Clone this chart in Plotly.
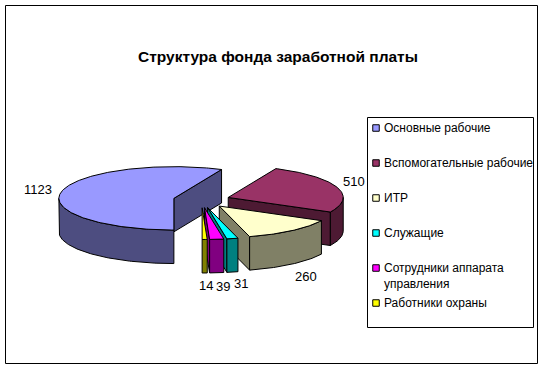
import math
import plotly.graph_objects as go

title = "Структура фонда заработной платы"
categories = ["Основные рабочие", "Вспомогательные рабочие", "ИТР", "Служащие",
              "Сотрудники аппарата<br>управления", "Работники охраны"]
values = [1123, 510, 260, 31, 39, 14]
top_colors = ["#9999FF", "#993366", "#FFFFCC", "#00FFFF", "#FF00FF", "#FFFF00"]
side_colors = ["#4D4D80", "#4D1A33", "#808066", "#008080", "#800080", "#808000"]

FONT = "Liberation Sans, Arial, sans-serif"
CX, CY, RX, RY, DEPTH, EXPLODE = 201.5, 200.0, 115.0, 31.7, 33.5, 0.2458
START_ANGLE = 180.0


def rim(a, ox, oy, dz=0.0):
    r = math.radians(a)
    return ox + RX * math.sin(r), oy - RY * math.cos(r) + dz


fig = go.Figure()


def face(points, color):
    fig.add_trace(go.Scatter(
        x=[p[0] for p in points] + [points[0][0]],
        y=[p[1] for p in points] + [points[0][1]],
        mode="lines", fill="toself", fillcolor=color,
        line=dict(color="black", width=1), hoverinfo="skip", showlegend=False))


# slice angular extents (clockwise from 12 o'clock)
total = sum(values)
slices = []
a = START_ANGLE
for i, v in enumerate(values):
    b = a + v / total * 360.0
    slices.append((i, a, b))
    a = b


def draw_slice(i, a0, a1):
    mid = math.radians((a0 + a1) / 2)
    ox = CX + EXPLODE * RX * math.sin(mid)
    oy = CY - EXPLODE * RY * math.cos(mid)
    side, top = side_colors[i], top_colors[i]
    # cut faces that look toward the viewer
    for ang, normal in ((a0, a0 - 90), (a1, a1 + 90)):
        if -math.cos(math.radians(normal)) > 1e-3:
            p = rim(ang, ox, oy)
            face([(ox, oy), p, (p[0], p[1] + DEPTH), (ox, oy + DEPTH)], side)
    # outer wall, front half of the rim only
    spans = []
    for k in (0, 360):
        lo, hi = max(a0, 90 + k), min(a1, 270 + k)
        if hi > lo:
            spans.append((lo, hi))
    for lo, hi in spans:
        n = max(2, int(hi - lo) + 1)
        arc = [lo + (hi - lo) * t / n for t in range(n + 1)]
        face([rim(t, ox, oy) for t in arc] + [rim(t, ox, oy, DEPTH) for t in reversed(arc)], side)
    # top face
    n = max(2, int(a1 - a0) + 1)
    arc = [a0 + (a1 - a0) * t / n for t in range(n + 1)]
    face([(ox, oy)] + [rim(t, ox, oy) for t in arc], top)


# painter's order: back slices first
for idx in (1, 0, 2, 3, 4, 5):
    draw_slice(*slices[idx])

ann = []
# data labels
label_xy = [(38, 189), (354, 181), (306, 276), (241, 283), (223, 286), (206, 285)]
for v, (x, y) in zip(values, label_xy):
    ann.append(dict(x=x, y=y, text=str(v), showarrow=False, xanchor="center", yanchor="middle",
                    font=dict(family=FONT, size=13, color="black")))

# legend
legend_y = [128, 163, 198, 233, 268, 303]
fig.add_trace(go.Scatter(
    x=[376] * len(categories), y=legend_y, mode="markers",
    marker=dict(symbol="square", size=6.5, color=top_colors, line=dict(color="black", width=1)),
    hoverinfo="skip", showlegend=False))
for name, y in zip(categories, legend_y):
    ann.append(dict(x=381.5, y=y - 9, text=name, showarrow=False, xanchor="left", yanchor="top", align="left",
                    font=dict(family=FONT, size=12, color="black")))

# title
ann.append(dict(x=278, y=56.5, text="<b>" + title + "</b>", showarrow=False, xanchor="center", yanchor="middle",
                font=dict(family=FONT, size=15.5, color="black")))

shapes = [
    dict(type="rect", x0=5.5, y0=5.5, x1=537.5, y1=363.5, line=dict(color="black", width=1), layer="below"),
    dict(type="rect", x0=367.5, y0=117.5, x1=533.5, y1=327.5, line=dict(color="black", width=1),
         fillcolor="white", layer="below"),
]

fig.update_layout(
    width=544, height=370, margin=dict(l=0, r=0, t=0, b=0),
    paper_bgcolor="white", plot_bgcolor="white", showlegend=False,
    xaxis=dict(range=[0, 544], visible=False, fixedrange=True),
    yaxis=dict(range=[370, 0], visible=False, fixedrange=True),
    annotations=ann, shapes=shapes)

fig.write_html("out.html", config=dict(displayModeBar=False),
               post_script="document.body.style.margin='0';document.body.style.overflow='hidden';")
